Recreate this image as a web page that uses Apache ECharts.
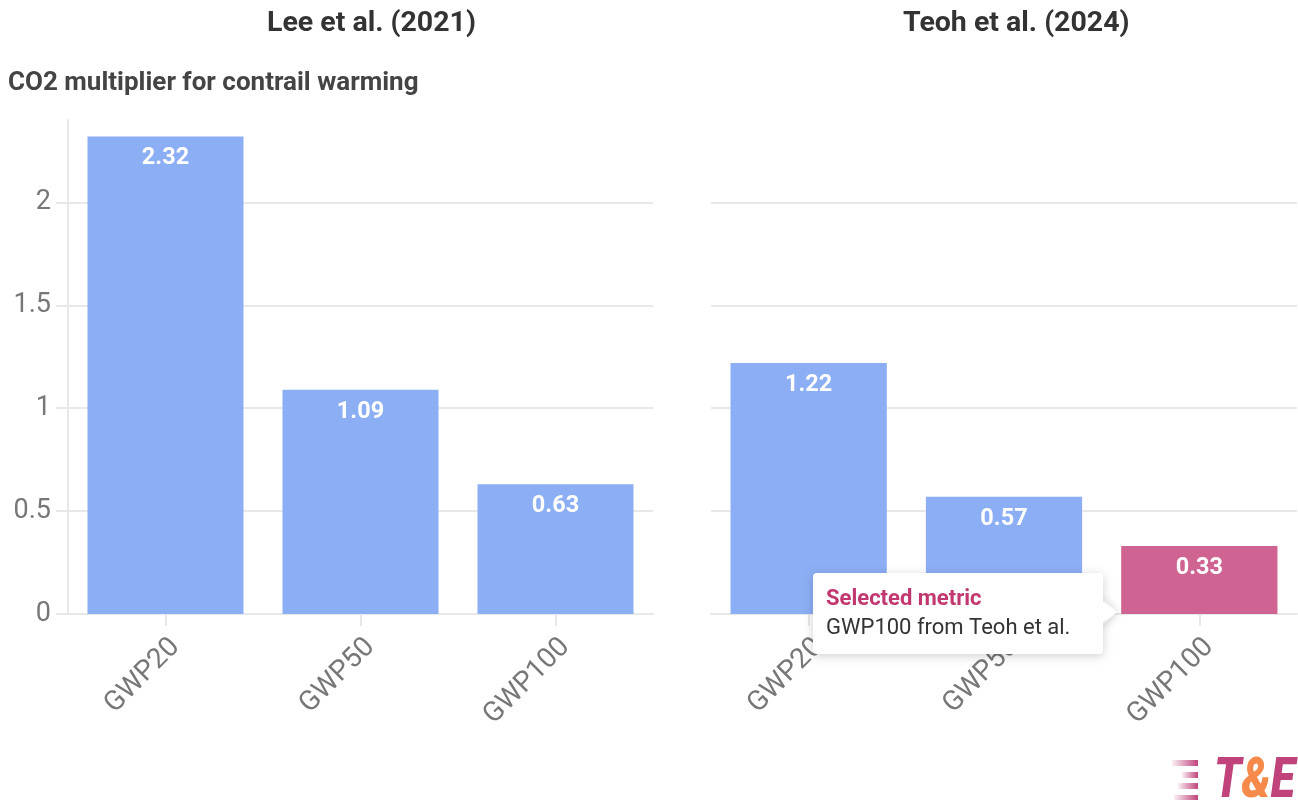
<!DOCTYPE html>
<html><head><meta charset="utf-8">
<script src="https://cdn.jsdelivr.net/npm/echarts@6/dist/echarts.min.js"></script>
<style>html,body{margin:0;padding:0;background:#fff}#c{width:1298px;height:800px}</style>
</head><body><div id="c"></div>
<script>
const categories = ['GWP20', 'GWP50', 'GWP100'];
const leeValues = [2.32, 1.09, 0.63];
const teohValues = [1.22, 0.57, 0.33];
const panelTitles = ['Lee et al. (2021)', 'Teoh et al. (2024)'];
const yTickLabels = ['0', '0.5', '1', '1.5', '2'];
const selectedIndex = 2;

const BLUE = '#8caef4', PINK = '#cf6391', GRID = '#e8e8e8', FONT = 'Roboto, "Noto Sans", sans-serif';
const chart = echarts.init(document.getElementById('c'), null, {renderer: 'canvas'});

function xAxis(gi) {
  return {
    type: 'category', gridIndex: gi, data: categories,
    axisLine: {show: true, lineStyle: {color: GRID, width: 2}},
    axisTick: {show: true, alignWithLabel: true, length: 12, lineStyle: {color: GRID, width: 2}},
    axisLabel: {rotate: 45, color: '#777', fontSize: 28, fontFamily: FONT, margin: 19, verticalAlign: 'top'}
  };
}
function yAxis(gi, showLabels) {
  return {
    type: 'value', gridIndex: gi, min: 0, max: 2.4, interval: 0.5,
    axisLine: {show: showLabels, lineStyle: {color: GRID, width: 2}},
    axisTick: {show: showLabels, length: 12, lineStyle: {color: GRID, width: 2}},
    axisLabel: {show: showLabels, showMaxLabel: false, color: '#777', fontSize: 27, fontFamily: FONT, margin: 17,
      formatter: v => { const i = Math.round(v / 0.5); return (Math.abs(v - i * 0.5) < 1e-9 && yTickLabels[i]) || ''; }},
    splitLine: {show: true, lineStyle: {color: [GRID, GRID, GRID, GRID, GRID, 'rgba(0,0,0,0)'], width: 2}}
  };
}
const labelCfg = {show: true, position: 'insideTop', distance: 10, color: '#fff', fontSize: 23.5, fontWeight: 'bold', fontFamily: FONT,
  formatter: p => p.value.toFixed(2)};
const titleStyle = {fontSize: 28.5, fontWeight: 'bold', color: '#333', fontFamily: FONT};
const stripeFill = () => new echarts.graphic.LinearGradient(0, 0, 1, 0, [{offset: 0, color: 'rgba(192,67,124,0.08)'}, {offset: 1, color: '#c0437c'}]);

chart.setOption({
  animation: false,
  textStyle: {fontFamily: FONT},
  title: [
    {text: panelTitles[0], left: 262, top: 4, textStyle: titleStyle},
    {text: panelTitles[1], left: 898, top: 4, textStyle: titleStyle},
    {text: 'CO2 multiplier for contrail warming', left: 3, top: 65, textStyle: {fontSize: 26, fontWeight: 'bold', color: '#444', fontFamily: FONT}}
  ],
  grid: [
    {left: 68, right: 645, top: 120, bottom: 186},
    {left: 711, right: 1, top: 120, bottom: 186}
  ],
  xAxis: [xAxis(0), xAxis(1)],
  yAxis: [yAxis(0, true), yAxis(1, false)],
  series: [
    {type: 'bar', xAxisIndex: 0, yAxisIndex: 0, barCategoryGap: '20%', data: leeValues,
      itemStyle: {color: BLUE}, label: labelCfg},
    {type: 'bar', xAxisIndex: 1, yAxisIndex: 1, barCategoryGap: '20%',
      data: teohValues.map((v, i) => ({value: v, itemStyle: {color: i === selectedIndex ? PINK : BLUE}})),
      label: labelCfg}
  ],
  graphic: [
    {type: 'polygon', z: 100, shape: {points: [[1100, 597], [1117, 612], [1100, 627]]},
      style: {fill: '#fff', shadowBlur: 8, shadowColor: 'rgba(0,0,0,0.18)', shadowOffsetX: 1, shadowOffsetY: 1}},
    {type: 'rect', z: 101, shape: {x: 813, y: 573, width: 290, height: 81, r: 4},
      style: {fill: '#fff', shadowBlur: 10, shadowColor: 'rgba(0,0,0,0.18)', shadowOffsetY: 2}},
    {type: 'polygon', z: 102, shape: {points: [[1098, 598], [1116, 612], [1098, 626]]}, style: {fill: '#fff'}},
    {type: 'text', z: 103, style: {x: 826, y: 599, text: 'Selected metric', fill: '#c2376f', font: 'bold 22px ' + FONT, verticalAlign: 'middle'}},
    {type: 'text', z: 103, style: {x: 826, y: 628, text: 'GWP100 from Teoh et al.', fill: '#333', font: '22px ' + FONT, verticalAlign: 'middle'}},
    {type: 'rect', z: 100, shape: {x: 1172, y: 760, width: 26, height: 6}, style: {fill: stripeFill()}},
    {type: 'rect', z: 100, shape: {x: 1182, y: 772, width: 16, height: 6}, style: {fill: stripeFill()}},
    {type: 'rect', z: 100, shape: {x: 1178, y: 783, width: 20, height: 6}, style: {fill: stripeFill()}},
    {type: 'rect', z: 100, shape: {x: 1174, y: 795, width: 24, height: 6}, style: {fill: stripeFill()}},
    {type: 'text', z: 100, x: 1214, y: 0, scaleX: 0.8, style: {x: 0, y: 783, verticalAlign: 'middle', text: '{t|T}{a|&}{t|E}',
      rich: {t: {fill: '#c0437c', fontSize: 56, fontWeight: 900, fontStyle: 'italic', fontFamily: FONT},
             a: {fill: '#f58a4b', fontSize: 56, fontWeight: 900, fontStyle: 'italic', fontFamily: FONT}}}}
  ]
});
</script></body></html>
